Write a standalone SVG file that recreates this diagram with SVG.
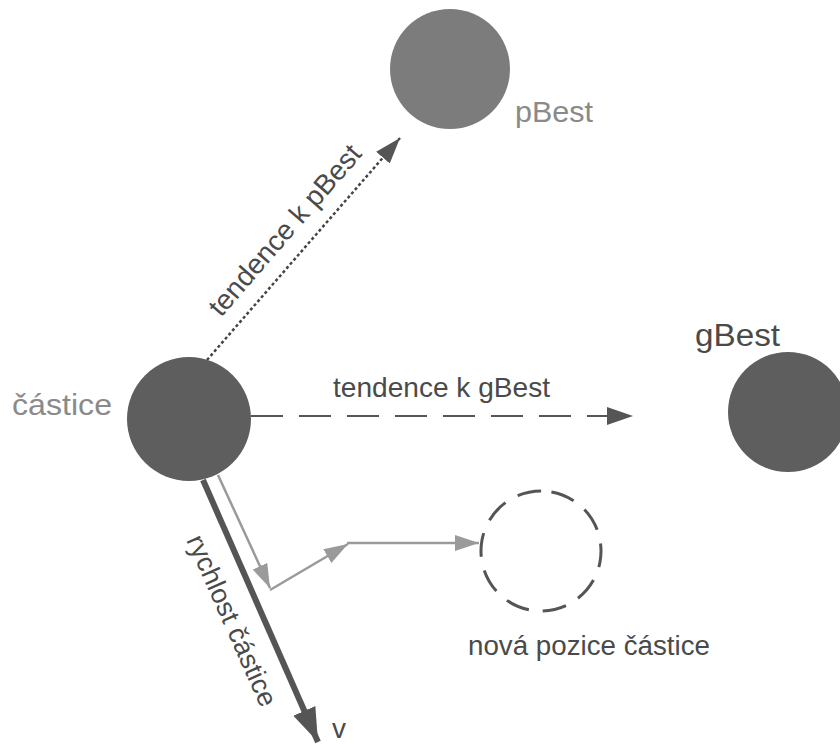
<svg xmlns="http://www.w3.org/2000/svg" width="840" height="744" viewBox="0 0 840 744">
  <style>
    .lbl { font-family: "Liberation Sans", Arial, sans-serif; }
    .node { fill: #5e5e5e; }
    .light { fill: #8a8a8a; }
    .dark { fill: #4a4a4a; }
  </style>
  <defs>
    <marker id="arrDark" markerUnits="userSpaceOnUse" markerWidth="28" markerHeight="20" refX="26" refY="9" orient="auto">
      <path d="M0,0 L26,9 L0,18 z" fill="#555"/>
    </marker>
    <marker id="arrGray" markerUnits="userSpaceOnUse" markerWidth="26" markerHeight="18" refX="24" refY="8" orient="auto">
      <path d="M0,0 L24,8 L0,16 z" fill="#9a9a9a"/>
    </marker>
    <marker id="arrVel" markerUnits="userSpaceOnUse" markerWidth="36" markerHeight="26" refX="34" refY="12" orient="auto">
      <path d="M0,0 L34,12 L0,24 z" fill="#555"/>
    </marker>
  </defs>
  <rect width="840" height="744" fill="#ffffff"/>

  <g id="connectors">
    <line x1="207" y1="360" x2="400" y2="138" stroke="#444" stroke-width="2.5" stroke-dasharray="3 2.5" marker-end="url(#arrDark)"/>
    <line x1="251" y1="416" x2="633" y2="416" stroke="#555" stroke-width="2" stroke-dasharray="32 16" marker-end="url(#arrDark)"/>
    <line x1="203" y1="480" x2="318" y2="742" stroke="#555" stroke-width="6" marker-end="url(#arrVel)"/>
    <line x1="218" y1="475" x2="270" y2="588" stroke="#9a9a9a" stroke-width="2.5" marker-end="url(#arrGray)"/>
    <line x1="270" y1="590" x2="348" y2="544" stroke="#9a9a9a" stroke-width="2.5" marker-end="url(#arrGray)"/>
    <line x1="347" y1="543" x2="479" y2="543" stroke="#9a9a9a" stroke-width="2.5" marker-end="url(#arrGray)"/>
    <text class="lbl dark" font-size="28" transform="translate(221,318) rotate(-49)">tendence k pBest</text>
    <text class="lbl dark" font-size="28" x="333" y="397" textLength="217" lengthAdjust="spacingAndGlyphs">tendence k gBest</text>
    <text class="lbl dark" font-size="27" transform="translate(186,540) rotate(66)">rychlost částice</text>
    <text class="lbl dark" font-size="28" x="332" y="738">v</text>
  </g>

  <g id="castice">
    <circle class="node" cx="189" cy="419" r="62"/>
    <text class="lbl light" font-size="30" x="12" y="415" textLength="100" lengthAdjust="spacingAndGlyphs">částice</text>
  </g>

  <g id="pBest">
    <circle cx="450" cy="69" r="60" fill="#7c7c7c"/>
    <text class="lbl light" font-size="30" x="515" y="122" textLength="78" lengthAdjust="spacingAndGlyphs">pBest</text>
  </g>

  <g id="gBest">
    <circle class="node" cx="788" cy="412" r="60"/>
    <text class="lbl dark" font-size="31" x="695" y="346" textLength="85" lengthAdjust="spacingAndGlyphs">gBest</text>
  </g>

  <g id="nova-pozice">
    <circle cx="541" cy="551" r="60" fill="none" stroke="#555" stroke-width="3" stroke-dasharray="24 14" transform="rotate(-80 541 551)"/>
    <text class="lbl dark" font-size="27" x="468" y="655" textLength="242" lengthAdjust="spacingAndGlyphs">nová pozice částice</text>
  </g>
</svg>
